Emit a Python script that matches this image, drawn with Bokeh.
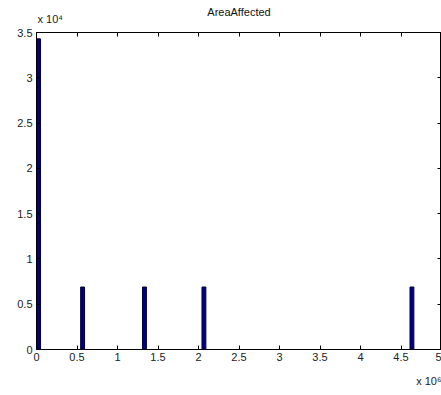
from bokeh.plotting import figure
from bokeh.models import (Range1d, LinearAxis, FixedTicker, CustomJSTickFormatter,
                          Title)
from bokeh.embed import file_html
from bokeh.resources import INLINE

# Histogram of AreaAffected (values in original units)
bin_centers = [0.025e6, 0.569e6, 1.333e6, 2.067e6, 4.635e6]
counts = [34300, 6900, 6900, 6900, 6900]
bin_width = 0.048e6

x_ticks = [0, 0.5e6, 1e6, 1.5e6, 2e6, 2.5e6, 3e6, 3.5e6, 4e6, 4.5e6, 5e6]
y_ticks = [0, 5000, 10000, 15000, 20000, 25000, 30000, 35000]

FONT = "Liberation Sans"
TXT = "#222222"

p = figure(width=441, height=395, output_backend="svg", toolbar_location=None,
           x_range=Range1d(0, 5e6), y_range=Range1d(0, 3.5e4),
           min_border_left=36, min_border_right=0, min_border_top=32,
           min_border_bottom=45, background_fill_color="white",
           border_fill_color="white")
p.grid.visible = False
p.outline_line_color = "black"
p.outline_line_width = 1

p.vbar(x=bin_centers, top=counts, width=bin_width, fill_color="#000080",
       line_color="#000040", line_width=1)

xfmt = CustomJSTickFormatter(code="return (tick/1e6).toString();")
yfmt = CustomJSTickFormatter(code="return (tick/1e4).toString();")
empty = CustomJSTickFormatter(code="return '';")

def style(ax, fmt):
    ax.formatter = fmt
    ax.major_tick_in = 4
    ax.major_tick_out = 0
    ax.minor_tick_in = 0
    ax.minor_tick_out = 0
    ax.axis_line_color = "black"
    ax.major_tick_line_color = "black"
    ax.major_label_text_font = FONT
    ax.major_label_text_font_size = "11px"
    ax.major_label_text_color = TXT

p.xaxis.ticker = FixedTicker(ticks=x_ticks)
p.yaxis.ticker = FixedTicker(ticks=y_ticks)
style(p.xaxis[0], xfmt)
style(p.yaxis[0], yfmt)
p.xaxis[0].major_label_standoff = 3
p.yaxis[0].major_label_standoff = 4

top_ax = LinearAxis(ticker=FixedTicker(ticks=x_ticks))
right_ax = LinearAxis(ticker=FixedTicker(ticks=y_ticks))
style(top_ax, empty)
style(right_ax, empty)
top_ax.major_label_standoff = 0
right_ax.major_label_standoff = 0
top_ax.major_label_text_font_size = "1px"
right_ax.major_label_text_font_size = "1px"
p.add_layout(top_ax, "above")
p.add_layout(right_ax, "right")

# exponent annotations as titles (kept outside the clipped frame)
exp_y = Title(text="x 10\u2074", align="left", offset=1, text_font=FONT,
              text_font_size="11px", text_font_style="normal", text_color=TXT,
              standoff=15)
p.add_layout(exp_y, "above")
exp_x = Title(text="x 10\u2076", align="right", offset=0, text_font=FONT,
              text_font_size="11px", text_font_style="normal", text_color=TXT,
              standoff=18)
p.add_layout(exp_x, "below")

p.title.text = "AreaAffected"
p.title.align = "center"
p.title.text_font = FONT
p.title.text_font_size = "11px"
p.title.text_font_style = "normal"
p.title.text_color = "#111111"
p.title.offset = 0
p.title.standoff = -28

open("out.html", "w").write(file_html(p, INLINE))
